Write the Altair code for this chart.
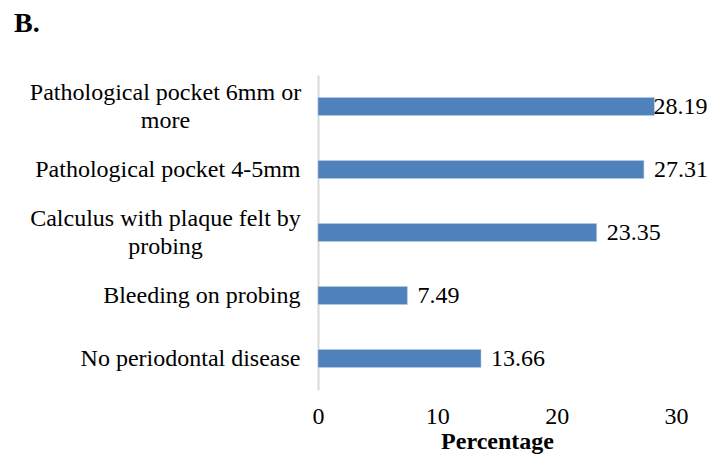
import altair as alt
import pandas as pd

categories = [
    "Pathological pocket 6mm or more",
    "Pathological pocket 4-5mm",
    "Calculus with plaque felt by probing",
    "Bleeding on probing",
    "No periodontal disease",
]
values = [28.19, 27.31, 23.35, 7.49, 13.66]
label_lines = [
    ["Pathological pocket 6mm or", "more"],
    ["Pathological pocket 4-5mm"],
    ["Calculus with plaque felt by", "probing"],
    ["Bleeding on probing"],
    ["No periodontal disease"],
]
x_ticks = [0, 10, 20, 30]

df = pd.DataFrame({"category": categories, "value": values})

def js_list(lines):
    return "[" + ", ".join("'" + s + "'" for s in lines) + "]"

expr = "datum.value"
for cat, lines in zip(categories, label_lines):
    if len(lines) > 1:
        expr = f"datum.value == '{cat}' ? {js_list(lines)} : " + expr
multi = [c for c, l in zip(categories, label_lines) if len(l) > 1]
multi_test = " || ".join(f"datum.value == '{c}'" for c in multi)

FONT = "Liberation Serif"
BLUE = "#4f81bd"
FS = 24

y_enc = alt.Y(
    "category:N",
    sort=categories,
    title=None,
    scale=alt.Scale(paddingInner=0.714, paddingOuter=0.357),
    axis=alt.Axis(
        labelExpr=expr,
        labelFont=FONT,
        labelFontSize=FS,
        labelColor="black",
        labelLineHeight=28,
        labelAlign={"condition": {"test": multi_test, "value": "center"}, "value": "right"},
        labelPadding={"condition": {"test": multi_test, "value": 153}, "value": 18},
        labelOffset={"condition": {"test": multi_test, "value": -14}, "value": 0},
        labelLimit=400,
        ticks=False,
        domainColor="#d9d9d9",
        domainWidth=2,
        grid=False,
    ),
)
x_enc = alt.X(
    "value:Q",
    title="Percentage",
    scale=alt.Scale(domain=[0, 30], nice=False),
    axis=alt.Axis(
        values=x_ticks,
        labelFlush=False,
        labelFont=FONT,
        labelFontSize=FS,
        labelColor="black",
        labelPadding=14,
        titleFont=FONT,
        titleFontSize=FS,
        titleFontWeight="bold",
        titleColor="black",
        titlePadding=1,
        domain=False,
        ticks=False,
        grid=False,
    ),
)

base = alt.Chart(df)
bars = base.mark_bar(color=BLUE, stroke="#b9cde5", strokeWidth=0.5).encode(x=x_enc, y=y_enc)
text_main = base.transform_filter(f"datum.value < {max(values)}").mark_text(
    align="left", baseline="middle", dx=10, font=FONT, fontSize=FS, color="black"
).encode(x="value:Q", y=alt.Y("category:N", sort=categories), text=alt.Text("value:Q", format=".2f"))
text_max = base.transform_filter(f"datum.value >= {max(values)}").mark_text(
    align="left", baseline="middle", dx=-1, font=FONT, fontSize=FS, color="black"
).encode(x="value:Q", y=alt.Y("category:N", sort=categories), text=alt.Text("value:Q", format=".2f"))

chart = (
    alt.layer(bars, text_main, text_max)
    .properties(
        width=358,
        height=315,
        autosize=alt.AutoSizeParams(type="none"),
        padding={"left": 310, "top": 67, "right": 32, "bottom": 66},
        title=alt.TitleParams(
            "B.", anchor="start", frame="group", dx=-304, offset=15, baseline="alphabetic",
            font=FONT, fontSize=28, fontWeight="bold", color="black",
        ),
    )
    .configure(background="white")
    .configure_view(stroke="transparent", strokeWidth=0)
)

chart.save("out.html", embed_options={"renderer": "svg", "actions": False})
